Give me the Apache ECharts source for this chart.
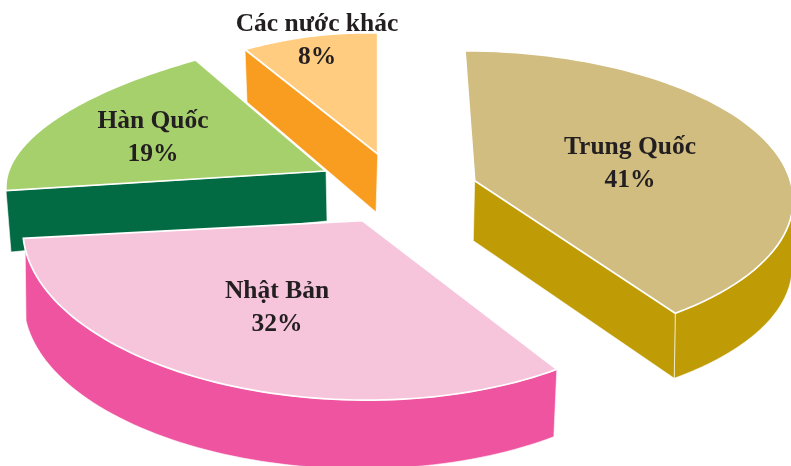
<!DOCTYPE html>
<html>
<head>
<meta charset="utf-8">
<style>html,body{margin:0;padding:0;background:#fff}#chart{width:791px;height:466px}</style>
<script src="https://cdn.jsdelivr.net/npm/echarts@6/dist/echarts.min.js"></script>
</head>
<body>
<div id="chart"></div>
<script>
// Market shares, clockwise from twelve o'clock
const categories = ['Trung Quốc', 'Nhật Bản', 'Hàn Quốc', 'Các nước khác'];
const shares = [41, 32, 19, 8];

const topColors = ['#D1BD80', '#F6C5DC', '#A6D06C', '#FFCC80'];
const sideColors = ['#BF9C05', '#EE549F', '#036B43', '#F99D20'];

// Each exploded wedge has its own perspective view of the unit disc:
// P(s, t) = apex + (s*a + t*b) / (1 + s*pa + t*pb), where (s, t) are the disc
// coordinates along the wedge's two radii. Depth is the extrusion offset.
const wedgeViews = [
  { apex: [474.7, 180.7], a: [-10.9, -145.8], b: [183.8, 121.5], pa: 0.1213, pb: -0.0835,
    apexDepth: [-1.4, 60], startDepth: [-1, 70], endDepth: [-1, 65],
    rim: [0.66, 1], face: 'end', paint: 2, label: [630, 164] },
  { apex: [362.6, 220.7], a: [182.3, 139.5], b: [-325.3, 16.9], pa: -0.0614, pb: -0.0412,
    apexDepth: [0, 70], startDepth: [-3, 67.4], endDepth: [1, 72],
    rim: [0, 0.97], face: null, paint: 3, label: [277, 308] },
  { apex: [326, 171], a: [-380.3, 23.4], b: [-132.1, -112.5], pa: 0.1885, pb: 0.0137,
    apexDepth: [1, 50], startDepth: [5, 61.3], endDepth: [5, 61.3],
    rim: null, face: 'start', paint: 1, label: [153, 137.5] },
  { apex: [377.7, 154], a: [-97.3, -76.6], b: [0, -100.9], pa: -0.2667, pb: -0.1658,
    apexDepth: [-1.7, 58], startDepth: [2, 52.5], endDepth: [2, 52.5],
    rim: null, face: 'start', paint: 0, label: [317, 41] }
];

const ARC_STEPS = 72;
const total = shares.reduce((sum, v) => sum + v, 0);

// Point on a wedge's outer arc, f running 0..1 across its sweep
function arcPoint(view, sweep, f) {
  const sinSweep = Math.sin(sweep);
  const s = Math.sin(sweep * (1 - f)) / sinSweep;
  const t = Math.sin(sweep * f) / sinSweep;
  const w = 1 + s * view.pa + t * view.pb;
  return [
    view.apex[0] + (s * view.a[0] + t * view.b[0]) / w,
    view.apex[1] + (s * view.a[1] + t * view.b[1]) / w
  ];
}

function depthAt(view, f) {
  return [
    view.startDepth[0] + (view.endDepth[0] - view.startDepth[0]) * f,
    view.startDepth[1] + (view.endDepth[1] - view.startDepth[1]) * f
  ];
}

function shifted(p, d) {
  return [p[0] + d[0], p[1] + d[1]];
}

function renderWedge(params, api) {
  const view = wedgeViews[params.dataIndex];
  const sweep = api.value(0) / total * Math.PI * 2;
  const base = (view.paint + 1) * 10;
  const children = [];

  const sideStyle = {
    fill: sideColors[params.dataIndex],
    stroke: '#ffffff',
    lineWidth: 0.6
  };

  // Outer rim: the visible stretch of the arc, extruded downwards
  if (view.rim) {
    const upper = [];
    const lower = [];
    for (let i = 0; i <= ARC_STEPS; i++) {
      const f = view.rim[0] + (view.rim[1] - view.rim[0]) * i / ARC_STEPS;
      const p = arcPoint(view, sweep, f);
      upper.push(p);
      lower.unshift(shifted(p, depthAt(view, f)));
    }
    children.push({
      type: 'polygon', z2: base,
      shape: { points: upper.concat(lower) },
      style: sideStyle
    });
  }

  // Cut face along one of the wedge's radii
  if (view.face) {
    const f = view.face === 'start' ? 0 : 1;
    const edge = arcPoint(view, sweep, f);
    children.push({
      type: 'polygon', z2: base + 1,
      shape: { points: [view.apex, edge, shifted(edge, depthAt(view, f)), shifted(view.apex, view.apexDepth)] },
      style: sideStyle
    });
  }

  // Top surface
  const top = [view.apex];
  for (let i = 0; i <= ARC_STEPS; i++) {
    top.push(arcPoint(view, sweep, i / ARC_STEPS));
  }
  children.push({
    type: 'polygon', z2: base + 2,
    shape: { points: top },
    style: { fill: topColors[params.dataIndex], stroke: '#ffffff', lineWidth: 1.7, lineJoin: 'miter' }
  });

  children.push({
    type: 'text', z2: 100,
    style: {
      text: categories[params.dataIndex] + '\n' + api.value(0) + '%',
      x: view.label[0],
      y: view.label[1],
      align: 'center',
      verticalAlign: 'middle',
      font: 'bold 25.5px "Liberation Serif", serif',
      lineHeight: 33,
      fill: '#231F20'
    }
  });

  return { type: 'group', children };
}

const chart = echarts.init(document.getElementById('chart'), null, { renderer: 'canvas' });
chart.setOption({
  backgroundColor: '#ffffff',
  animation: false,
  series: [{
    type: 'custom',
    coordinateSystem: 'none',
    renderItem: renderWedge,
    data: shares,
    silent: true
  }]
});
</script>
</body>
</html>
